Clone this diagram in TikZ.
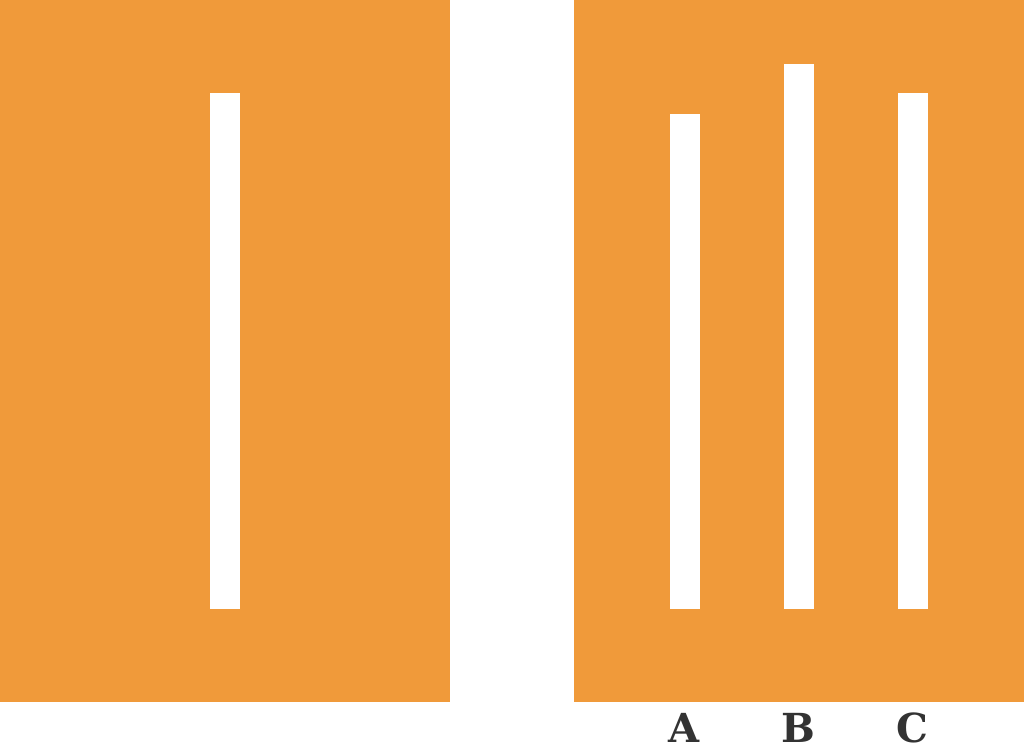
\documentclass[tikz,border=0pt]{standalone}
\usepackage{fontspec}
\newfontfamily\labelfont{DejaVu Serif}
\definecolor{panelorange}{RGB}{240,154,58}
\definecolor{labelgray}{RGB}{51,51,51}
\tikzset{
  panel/.style={fill=panelorange, draw=none},
  linebar/.style={fill=white, draw=none},
  lbl/.style={anchor=base, inner sep=0pt, text=labelgray, font=\labelfont\bfseries\fontsize{40}{40}\selectfont}
}
\begin{document}
\begin{tikzpicture}[x=1pt,y=-1pt]
\useasboundingbox (0,0) rectangle (1024,742);
\fill[white] (0,0) rectangle (1024,742);
% panels
\path[panel] (0,0) rectangle (450,702);
\path[panel] (574,0) rectangle (1024,702);
% reference line
\path[linebar] (210,93) rectangle (240,609);
% comparison lines
\path[linebar] (669.5,113.5) rectangle (699.5,609);
\path[linebar] (783.5,64) rectangle (813.5,609);
\path[linebar] (897.5,93) rectangle (927.5,609);
% labels
\node[lbl] (la) at (684.5,742) {A};
\node[lbl] (lb) at (798.5,742) {B};
\node[lbl] (lc) at (912.5,742) {C};
\end{tikzpicture}
\end{document}
